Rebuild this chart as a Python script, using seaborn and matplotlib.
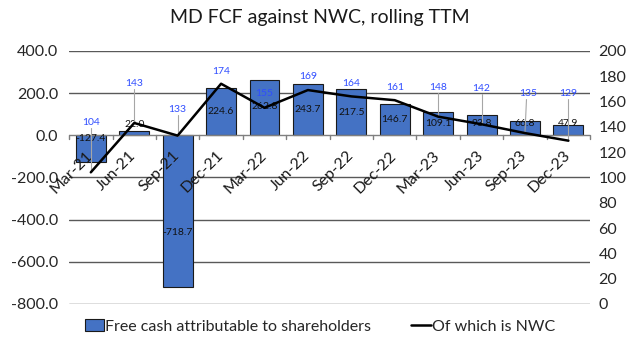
import matplotlib
matplotlib.use("Agg")
import matplotlib.pyplot as plt
import seaborn as sns
import pandas as pd
import numpy as np
from matplotlib.patches import Patch
from matplotlib.lines import Line2D

categories = ["Mar-21", "Jun-21", "Sep-21", "Dec-21", "Mar-22", "Jun-22",
              "Sep-22", "Dec-22", "Mar-23", "Jun-23", "Sep-23", "Dec-23"]
fcf = [-127.4, 22.0, -718.7, 224.6, 262.8, 243.7, 217.5, 146.7, 109.1, 93.8, 66.8, 47.9]
nwc = [104, 143, 133, 174, 155, 169, 164, 161, 148, 142, 135, 129]
left_ticks = [-800, -600, -400, -200, 0, 200, 400]
right_ticks = [0, 20, 40, 60, 80, 100, 120, 140, 160, 180, 200]

# label placement (left-axis units for bar labels, right-axis units for NWC labels)
fcf_label_y = [-14, 52, -463, 113, 137, 123, 109, 76, 57, 57, 57, 57]
nwc_label_y = [143.6, 174.4, 154, 184, 166, 180, 174, 171, 171, 170.5, 166, 166.5]
nwc_label_dx = [0, 0, 0, 0, 0, 0, 0, 0, 0, 0, 0.07, 0]
nwc_leader = [True, True, True, False, False, False, False, False, True, True, True, True]

sns.set_style("white")
plt.rcParams["font.family"] = ["Lato", "DejaVu Sans"]

df = pd.DataFrame({"period": categories, "fcf": fcf, "nwc": nwc})

fig = plt.figure(figsize=(6.4, 3.53), dpi=100)
ax = fig.add_axes([0.108, 0.139, 0.814, 0.717])
bar_color = "#4472C4"
sns.barplot(data=df, x="period", y="fcf", ax=ax, color=bar_color, width=0.69,
            edgecolor="#1a1a1a", linewidth=0.8, saturation=1, zorder=3)
ax.set_ylim(-800, 400)
ax.set_yticks(left_ticks)
ax.set_yticklabels([f"{v:.1f}" for v in left_ticks], fontsize=11.5)
ax.set_xlim(-0.5, len(categories) - 0.5)
ax.set_xlabel("")
ax.set_ylabel("")
for s in ["top", "right", "left", "bottom"]:
    ax.spines[s].set_visible(False)
for v in left_ticks:
    if v != 0:
        ax.axhline(v, color="#595959", lw=1.0, zorder=1)
ax.axhline(0, color="#7f7f7f", lw=1.0, zorder=4)
# tick marks at category boundaries on zero line
for b in np.arange(-0.5, len(categories), 1.0):
    ax.plot([b, b], [0, -18], color="#7f7f7f", lw=1.0, zorder=4, clip_on=False)
ax.tick_params(axis="y", length=0, pad=8)
ax.tick_params(axis="x", length=0)
ax.set_xticks(range(len(categories)))
ax.set_xticklabels([])
for i, c in enumerate(categories):
    ax.text(i - 0.12, -62, c, rotation=45, ha="right", va="top",
            rotation_mode="anchor", fontsize=11.5, color="#1a1a1a", zorder=6)

for i, (v, ly) in enumerate(zip(fcf, fcf_label_y)):
    ax.text(i, ly, f"{v:.1f}", ha="center", va="center", fontsize=7.5,
            color="#111111", zorder=6)

ax2 = ax.twinx()
sns.lineplot(data=df, x="period", y="nwc", ax=ax2, color="black", lw=1.8,
             sort=False, zorder=5)
ax2.set_ylim(0, 200)
ax2.set_yticks(right_ticks)
ax2.set_yticklabels([str(v) for v in right_ticks], fontsize=11.5)
ax2.tick_params(axis="y", length=0, pad=6)
ax2.set_ylabel("")
ax2.set_xlabel("")
for s in ["top", "right", "left", "bottom"]:
    ax2.spines[s].set_visible(False)
ax2.set_xlim(-0.5, len(categories) - 0.5)

for i, (v, ly, dx, lead) in enumerate(zip(nwc, nwc_label_y, nwc_label_dx, nwc_leader)):
    ax2.text(i + dx, ly, str(v), ha="center", va="center", fontsize=7.5,
             color="#2f4dff", zorder=7)
    if lead:
        ax2.plot([i + dx * 0.5, i], [ly - 4.5, v], color="#a6a6a6", lw=0.8, zorder=4)

fig.suptitle("MD FCF against NWC, rolling TTM", y=0.975, fontsize=14, color="#1a1a1a")

handles = [Patch(facecolor=bar_color, edgecolor="#1a1a1a", lw=0.8),
           Line2D([0], [0], color="black", lw=1.8)]
fig.legend(handles, ["Free cash attributable to shareholders", "Of which is NWC"],
           loc="center", bbox_to_anchor=(0.5, 0.075), ncol=2, frameon=False,
           fontsize=11.5, handlelength=1.2, handletextpad=0.1, columnspacing=2.5)

fig.savefig("out.png", dpi=100, facecolor="white")
